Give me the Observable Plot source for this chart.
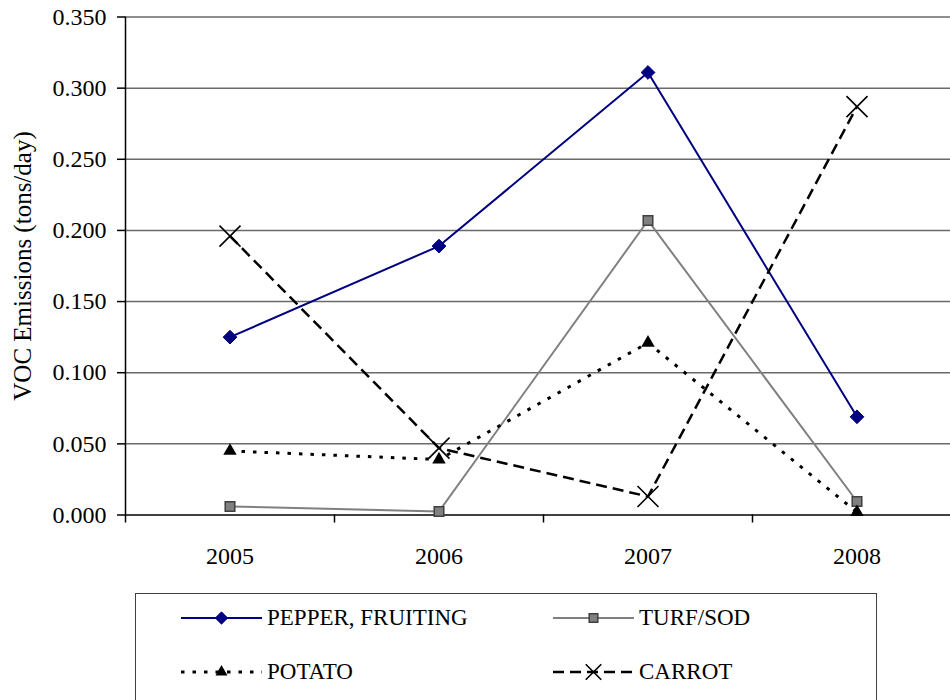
<!DOCTYPE html>
<html>
<head>
<meta charset="utf-8">
<script src="https://cdn.jsdelivr.net/npm/d3@7"></script>
<script src="https://cdn.jsdelivr.net/npm/@observablehq/plot@0.6"></script>
<style>
  html, body { margin: 0; padding: 0; background: #fff; overflow: hidden; }
  #wrap { position: relative; width: 950px; height: 700px;
          font-family: "Liberation Serif", "Times New Roman", Times, "Nimbus Roman", "Noto Serif", "DejaVu Serif", FreeSerif, Tinos, Georgia, serif; }
  #chart svg { display: block; }
  #legend { position: absolute; left: 135px; top: 593px; width: 742px; height: 130px;
            border: 1px solid #404040; box-sizing: border-box; background: #fff; }
  .item { position: absolute; display: flex; align-items: center; height: 30px;
          font-size: 23px; color: #000; white-space: nowrap; }
  .item svg { display: block; margin-right: 5px; }
</style>
</head>
<body>
<div id="wrap">
  <div id="chart"></div>
  <div id="legend"></div>
</div>
<script>
// VOC emissions by crop, tons/day
const years = [2005, 2006, 2007, 2008];
const pepper = [0.125, 0.189, 0.311, 0.069];
const turf = [0.006, 0.0025, 0.207, 0.0095];
const potato = [0.045, 0.039, 0.121, 0.002];
const carrot = [0.196, 0.047, 0.013, 0.287];
const seriesNames = ["PEPPER, FRUITING", "TURF/SOD", "POTATO", "CARROT"];
const yTicks = [0, 0.05, 0.1, 0.15, 0.2, 0.25, 0.3, 0.35];
const yLabel = "VOC Emissions (tons/day)";

// category boundaries (tick marks sit between the years)
const boundaries = [2004.5, 2005.5, 2006.5, 2007.5, 2008.5];

const serifFont = "'Liberation Serif', 'Times New Roman', Times, 'Nimbus Roman', 'Noto Serif', 'DejaVu Serif', FreeSerif, Tinos, Georgia, serif";

// drawing style for each series
const styles = [
  {values: pepper, line: "#000080", width: 2, dash: null, symbol: "diamond2", sym: d3.symbolDiamond2, fill: "#000080", mstroke: "#000080", mwidth: 1, r: 6.2},
  {values: turf, line: "#808080", width: 2, dash: null, symbol: "square", sym: d3.symbolSquare, fill: "#808080", mstroke: "#404040", mwidth: 1.5, r: 5.4},
  {values: potato, line: "#000000", width: 3, dash: "3.5,8", symbol: "triangle", sym: d3.symbolTriangle, fill: "#000000", mstroke: "none", mwidth: 0, r: 5},
  {values: carrot, line: "#000000", width: 2.5, dash: "11,6", symbol: "times", sym: d3.symbolTimes, fill: "none", mstroke: "#000000", mwidth: 1.6, r: 9.6}
];

const series = styles.map((s, k) => ({
  ...s,
  name: seriesNames[k],
  data: years.map((y, i) => ({year: y, value: s.values[i]}))
}));

const lineMarks = series.map(s => Plot.line(s.data, {
  x: "year", y: "value", stroke: s.line, strokeWidth: s.width,
  strokeDasharray: s.dash ?? undefined, strokeLinejoin: "miter", strokeLinecap: "butt"
}));
const dotMarks = series.map(s => Plot.dot(s.data, {
  x: "year", y: "value", symbol: () => s.symbol, r: s.r,
  fill: s.fill, stroke: s.mstroke, strokeWidth: s.mwidth
}));

const chart = Plot.plot({
  width: 950,
  height: 585,
  marginTop: 16.5,
  marginBottom: 70.5,
  marginLeft: 125,
  marginRight: -11,
  style: {fontFamily: serifFont, fontSize: "24px", color: "#000", background: "#fff"},
  x: {domain: [2004.5, 2008.5], axis: null},
  y: {domain: [0, 0.35], axis: null},
  marks: [
    Plot.ruleY(yTicks.slice(1), {stroke: "#6a6a6a", strokeWidth: 1.5}),
    Plot.ruleY([0], {stroke: "#000", strokeWidth: 1.5}),
    Plot.ruleX([boundaries[0]], {stroke: "#000", strokeWidth: 1.5}),
    Plot.ruleX(boundaries, {y1: 0, y2: 0, insetBottom: -8, stroke: "#000", strokeWidth: 1.5}),
    Plot.axisY({ticks: yTicks, tickSize: 8, tickPadding: 11, tickFormat: d3.format(".3f"),
                label: null, fontSize: 24, fontFamily: serifFont, stroke: "#000", strokeWidth: 1.5}),
    Plot.axisX({ticks: years, tickSize: 0, tickPadding: 31.5, tickFormat: d => String(d),
                label: null, fontSize: 24, fontFamily: serifFont}),
    Plot.text([yLabel], {frameAnchor: "left", textAnchor: "middle", rotate: -90, dx: -103,
                         fontSize: 25, fontFamily: serifFont, fill: "#000"}),
    ...lineMarks,
    ...dotMarks
  ]
});
document.getElementById("chart").appendChild(chart);

// legend: two columns, two rows
const legend = document.getElementById("legend");
const cols = [45, 417];
const rows = [9, 63];
series.forEach((s, k) => {
  const item = document.createElement("div");
  item.className = "item";
  item.style.left = cols[k % 2] + "px";
  item.style.top = rows[Math.floor(k / 2)] + "px";
  const sw = d3.create("svg").attr("width", 81).attr("height", 30);
  sw.append("line").attr("x1", 0).attr("x2", 81).attr("y1", 15).attr("y2", 15)
    .attr("stroke", s.line).attr("stroke-width", s.width)
    .attr("stroke-dasharray", s.dash);
  sw.append("path").attr("transform", "translate(40.5,15)")
    .attr("d", d3.symbol(s.sym, Math.PI * s.r * s.r * (s.symbol === "times" ? 0.55 : 0.8))())
    .attr("fill", s.fill).attr("stroke", s.mstroke).attr("stroke-width", s.mwidth);
  item.appendChild(sw.node());
  const label = document.createElement("span");
  label.textContent = s.name;
  item.appendChild(label);
  legend.appendChild(item);
});
</script>
</body>
</html>
